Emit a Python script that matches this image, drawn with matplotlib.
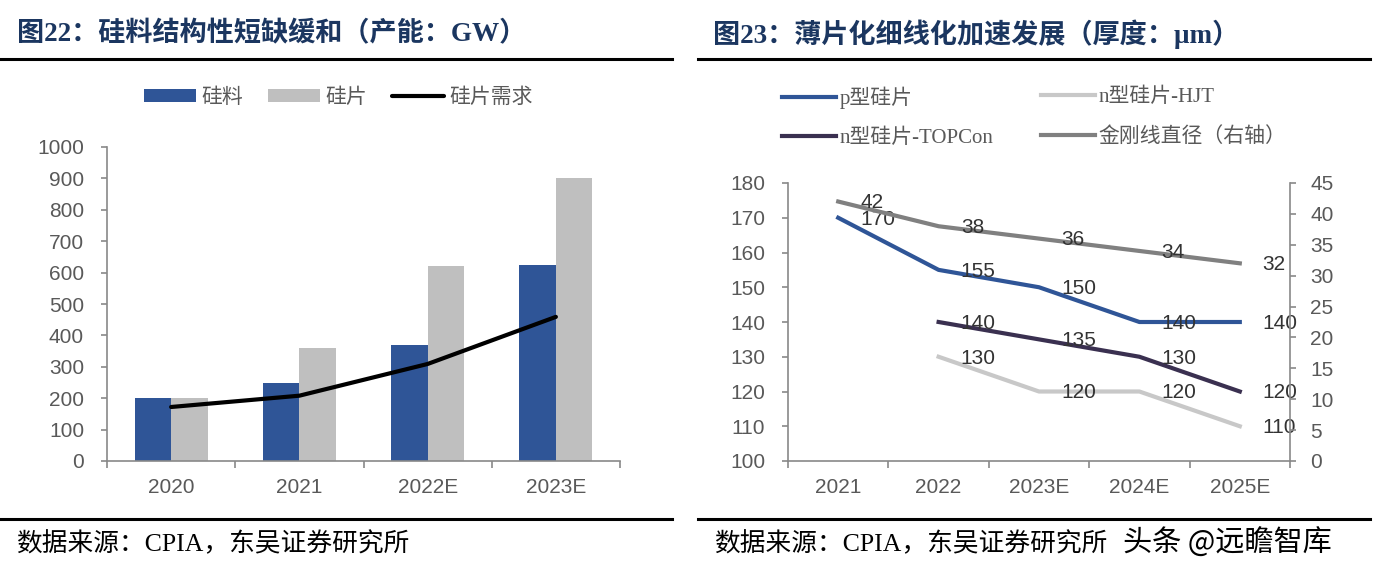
import numpy as np
import matplotlib
matplotlib.use('Agg')
import matplotlib.pyplot as plt
from matplotlib.lines import Line2D
from matplotlib.font_manager import FontProperties

plt.rcParams['font.family'] = ['Liberation Sans', 'Noto Sans CJK SC']

# 图22 数据
years_l = ['2020', '2021', '2022E', '2023E']
polysilicon = [200, 250, 370, 625]
wafer = [200, 360, 620, 900]
wafer_demand = [172, 208, 309, 459]

# 图23 数据
years_r = ['2021', '2022', '2023E', '2024E', '2025E']
p_type = [170, 155, 150, 140, 140]
n_topcon = [np.nan, 140, 135, 130, 120]
n_hjt = [np.nan, 130, 120, 120, 110]
wire_diam = [42, 38, 36, 34, 32]

W, H = 1379, 575
TICK = '#595959'
SPINE = '#898989'
TITLE_C = '#1b3660'
BLUE = '#2f5597'
LGRAY = '#bfbfbf'

serif_cjk = ['Liberation Serif', 'Noto Sans CJK SC']

fig = plt.figure(figsize=(W / 100, H / 100), dpi=100)


def fx(px):
    return px / W


def fy(py):
    return 1 - py / H


def style_axis(ax, n):
    for s in ['top', 'right']:
        ax.spines[s].set_visible(False)
    for s in ['left', 'bottom']:
        ax.spines[s].set_color(SPINE)
        ax.spines[s].set_linewidth(1.2)
    ax.set_xlim(-0.5, n - 0.5)
    ax.set_xticks(range(n))
    ax.set_xticks(np.arange(-0.5, n, 1.0), minor=True)
    ax.tick_params(axis='x', which='major', length=0, pad=12, labelsize=15, labelcolor=TICK)
    ax.tick_params(axis='x', which='minor', length=5, width=1.2, color=SPINE, direction='out')
    ax.tick_params(axis='y', which='major', length=4.5, width=1.2, color=SPINE,
                   direction='out', pad=12, labelsize=15, labelcolor=TICK)


# ---------- 左图：柱状 + 折线 ----------
ax1 = fig.add_axes([fx(107), fy(461), fx(620 - 107), (461 - 147) / H])
x = np.arange(len(years_l))
bw = 0.285
b1 = ax1.bar(x - bw / 2, polysilicon, bw, color=BLUE, label='硅料', zorder=2)
b2 = ax1.bar(x + bw / 2, wafer, bw, color=LGRAY, label='硅片', zorder=2)
l1, = ax1.plot(x, wafer_demand, color='black', lw=3, solid_capstyle='round',
               solid_joinstyle='round', label='硅片需求', zorder=3)
style_axis(ax1, len(years_l))
ax1.set_xticklabels(years_l)
ax1.set_ylim(0, 1000)
ax1.set_yticks(range(0, 1001, 100))

fig.legend(handles=[b1, b2, l1], loc='center left', bbox_to_anchor=(fx(144), fy(98)),
           ncol=3, frameon=False, prop=FontProperties(family=serif_cjk, size=15),
           labelcolor=TICK, handlelength=2.5, handleheight=0.55, handletextpad=0.25,
           columnspacing=1.2, borderpad=0, borderaxespad=0)

# ---------- 右图：折线 + 右轴 ----------
ax2 = fig.add_axes([fx(788), fy(461), fx(1290 - 788), (461 - 183) / H])
xr = np.arange(len(years_r))
lp, = ax2.plot(xr, p_type, color=BLUE, lw=3, label='p型硅片', zorder=3)
lt, = ax2.plot(xr, n_topcon, color='#3a3050', lw=3, label='n型硅片-TOPCon', zorder=3)
lh, = ax2.plot(xr, n_hjt, color='#c8c8c8', lw=3, label='n型硅片-HJT', zorder=3)
style_axis(ax2, len(years_r))
ax2.set_xticklabels(years_r)
ax2.set_ylim(100, 180)
ax2.set_yticks(range(100, 181, 10))

ax3 = ax2.twinx()
lw_, = ax3.plot(xr, wire_diam, color='#808080', lw=3, label='金刚线直径（右轴）', zorder=3)
ax3.set_ylim(0, 45)
ax3.set_yticks(range(0, 46, 5))
for s in ['top', 'left', 'bottom']:
    ax3.spines[s].set_visible(False)
ax3.spines['right'].set_color(SPINE)
ax3.spines['right'].set_linewidth(1.2)
ax3.tick_params(axis='y', length=4.5, width=1.2, color=SPINE, direction='out',
                pad=10, labelsize=15, labelcolor=TICK)

lab_kw = dict(textcoords='offset points', xytext=(16, -1), ha='left', va='center',
              fontsize=15, color='#333333', zorder=5)
for series in [p_type, n_topcon, n_hjt]:
    for i, v in enumerate(series):
        if not np.isnan(v):
            ax2.annotate(f'{v:g}', (xr[i], v), **lab_kw)
for i, v in enumerate(wire_diam):
    ax3.annotate(f'{v:g}', (xr[i], v), **lab_kw)

leg_kw = dict(frameon=False, prop=FontProperties(family=serif_cjk, size=15),
              labelcolor=TICK, handlelength=2.6, handletextpad=0.15,
              labelspacing=0.95, borderpad=0, borderaxespad=0, loc='center left')
fig.legend(handles=[lp, lt], bbox_to_anchor=(fx(782), fy(117.5)), **leg_kw)
fig.legend(handles=[lh, lw_], bbox_to_anchor=(fx(1041), fy(117.5)), **leg_kw)

# ---------- 标题、分隔线、来源 ----------
title_font = dict(family=serif_cjk, weight='bold', size=19.5, color=TITLE_C, va='center')
fig.text(fx(17), fy(34), '图22：硅料结构性短缺缓和（产能：GW）', **title_font)
fig.text(fx(713), fy(34), '图23：薄片化细线化加速发展（厚度：μm）', **title_font)

for y in [59, 519]:
    fig.add_artist(Line2D([fx(0), fx(672)], [fy(y), fy(y)], color='black', lw=2.2))
    fig.add_artist(Line2D([fx(698), fx(1370)], [fy(y), fy(y)], color='black', lw=2.2))

src_font = dict(family=serif_cjk, size=18.5, color='black', va='center')
fig.text(fx(16), fy(544), '数据来源：CPIA，东吴证券研究所', **src_font)
fig.text(fx(714), fy(544), '数据来源：CPIA，东吴证券研究所', **src_font)
fig.text(fx(1123), fy(544), '头条 @远瞻智库', family=['Noto Sans CJK SC', 'DejaVu Sans'],
         size=21, color='black', va='center', zorder=5,
         bbox=dict(facecolor='white', edgecolor='none', pad=1))

fig.savefig('out.png', dpi=100)
